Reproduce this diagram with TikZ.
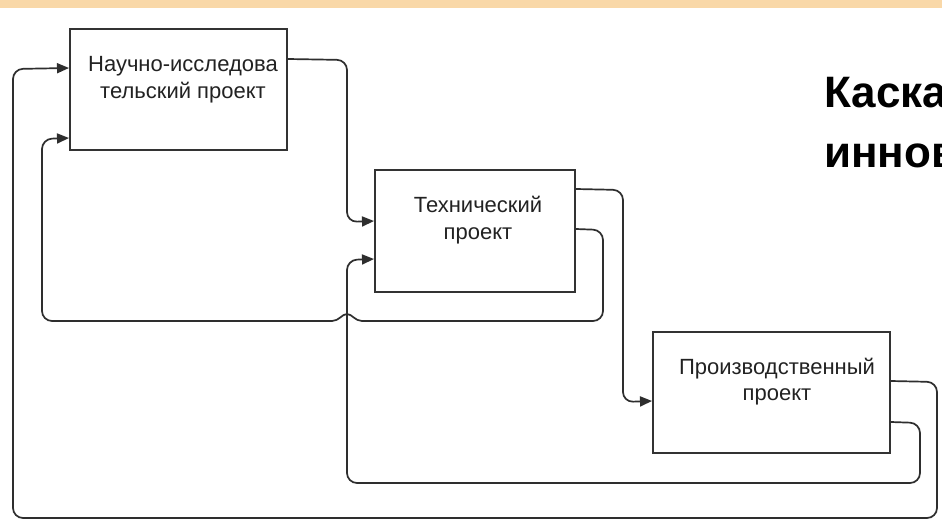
\documentclass[tikz,border=0pt]{standalone}
\usepackage{fontspec}
\setmainfont{Liberation Sans}
\usetikzlibrary{arrows.meta,calc}
\definecolor{topband}{HTML}{F9D8A8}
\definecolor{linecol}{HTML}{2E2E2E}
\definecolor{boxcol}{HTML}{333333}
\definecolor{txtcol}{HTML}{222222}
\tikzset{
  box/.style={draw=boxcol, line width=2pt, fill=white, inner sep=0pt},
  btext/.style={text=txtcol, font=\fontsize{22}{26}\selectfont, align=center, inner sep=0pt},
  conn/.style={draw=linecol, line width=1.7pt, rounded corners=10pt},
  arr/.style={-{Triangle[length=12pt,width=10pt]}},
  title/.style={font=\fontsize{44}{46}\selectfont\bfseries, anchor=base west, inner sep=0pt}
}
\begin{document}
\begin{tikzpicture}[x=1pt,y=-1pt]
\useasboundingbox (0,0) rectangle (942,522);
\fill[white] (0,0) rectangle (942,522);
\fill[topband] (0,0) rectangle (942,8);
% boxes
\node[box, minimum width=217pt, minimum height=121pt] (b1) at (178.5,89.5) {};
\node[box, minimum width=200pt, minimum height=122pt] (b2) at (475,231) {};
\node[box, minimum width=237pt, minimum height=121pt] (b3) at (771.5,392.5) {};
% box texts
\node[btext, anchor=base] (t1a) at (183,71) {Научно-исследова};
\node[btext, anchor=base] (t1b) at (183,98) {тельский проект};
\node[btext, anchor=base] (t2a) at (478,212) {Технический};
\node[btext, anchor=base] (t2b) at (478,239) {проект};
\node[btext, anchor=base] (t3a) at (777,374) {Производственный};
\node[btext, anchor=base] (t3b) at (777,400) {проект};
% connectors
% b1 -> b2
\draw[conn, arr] ($(b1.north east)+(0,31)$) -- (347,60) -- (347,222) -- ($(b2.north west)+(0,52)$);
% b2 -> b3
\draw[conn, arr] ($(b2.north east)+(0,20)$) -- (623,190) -- (623,402) -- ($(b3.north west)+(0,70)$);
% b2 -> b1 feedback (with hop over the vertical line)
\draw[conn] ($(b2.north east)+(0,60)$) -- (603,230) -- (603,321) -- (362,321);
\draw[draw=linecol, line width=1.7pt] (362,321) .. controls (355,321) and (352,314) .. (347,314) .. controls (342,314) and (339,321) .. (332,321);
\draw[conn, arr] (332,321) -- (42,321) -- (42,139) -- ($(b1.north west)+(0,110)$);
% b3 -> b1
\draw[conn, arr] ($(b3.north east)+(0,50)$) -- (937,382) -- (937,518) -- (13,518) -- (13,69) -- ($(b1.north west)+(0,40)$);
% b3 -> b2
\draw[conn, arr] ($(b3.north east)+(0,91)$) -- (920,423) -- (920,483) -- (347,483) -- (347,260) -- ($(b2.north west)+(0,90)$);
% title (cut off at the right edge, as in the reference)
\begin{scope}
\clip (0,0) rectangle (942,522);
\node[title] (ttl1) at (824,107) {Каска};
\node[title] (ttl2) at (824,167) {иннов};
\end{scope}
\end{tikzpicture}
\end{document}
